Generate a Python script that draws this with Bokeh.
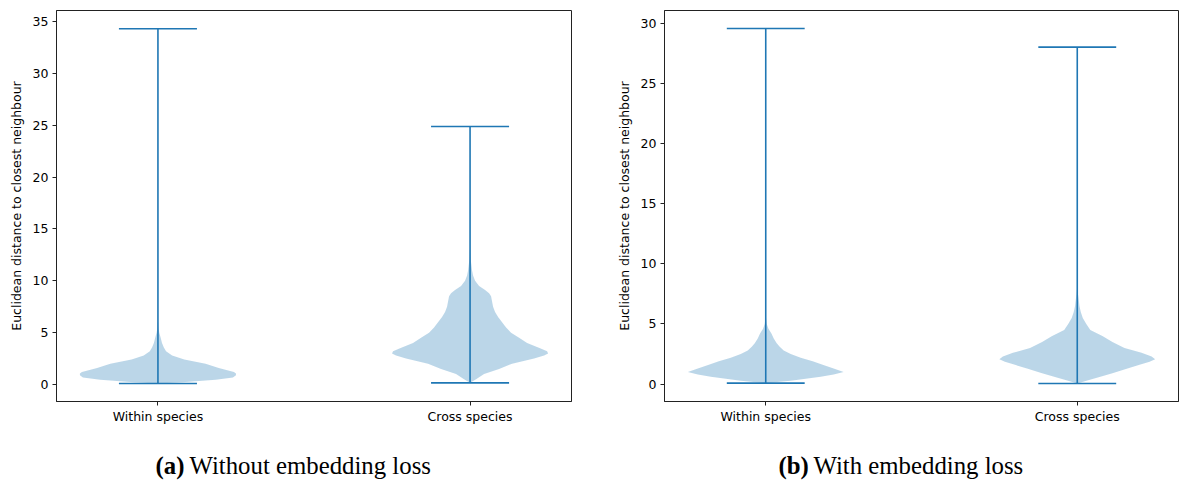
import numpy as np
from bokeh.plotting import figure
from bokeh.layouts import row, column
from bokeh.models import Range1d, FixedTicker
from bokeh.core.properties import value
from bokeh.embed import file_html
from bokeh.resources import INLINE

# ---------------- data ----------------
categories = ["Within species", "Cross species"]
positions = [1, 2]
y_label = "Euclidean distance to closest neighbour"

# panel (a): without embedding loss
a_min = [0.10, 0.16]
a_max = [34.3, 24.87]
a_within_y = [0.10, 0.22, 0.45, 0.68, 0.9, 1.05, 1.2, 1.6, 2.0, 2.4, 2.8, 3.2, 3.6, 4.0, 4.5, 5.0, 5.5, 6.0]
a_within_d = [0, 24, 57, 74, 77, 77, 75, 60, 47, 26, 14, 8, 5.7, 4, 2.7, 1.3, 0.5, 0.2]
a_cross_y = [0.16, 0.5, 1.0, 1.5, 2.0, 2.5, 2.8, 3.0, 3.2, 3.5, 4.0, 4.5, 5.0, 5.5, 6.0, 6.5, 7.0,
             7.5, 8.0, 8.5, 8.8, 9.1, 9.5, 10.0, 10.5, 11.0, 12.0, 13.0]
a_cross_d = [0, 6, 14, 29, 42, 64, 74, 78, 77, 70, 57, 49, 41, 36, 32, 28, 25,
             23, 22, 21, 19, 15, 9, 5, 3, 2, 0.7, 0.3]
a_yticks = [0, 5, 10, 15, 20, 25, 30, 35]

# panel (b): with embedding loss
b_min = [0.08, 0.05]
b_max = [29.58, 28.03]
b_within_y = [0.08, 0.28, 0.6, 0.8, 1.0, 1.3, 1.6, 1.9, 2.2, 2.5, 2.8, 3.1, 3.4, 3.8, 4.2, 4.6, 5.0, 5.5]
b_within_d = [0, 25, 55, 68, 78, 68, 57, 47, 35, 25, 18, 14, 11, 8, 5.7, 2.7, 1, 0.3]
b_cross_y = [0.05, 0.3, 0.6, 0.9, 1.3, 1.6, 1.85, 2.06, 2.3, 2.6, 3.0, 3.5, 4.0, 4.5, 5.0, 5.5,
             6.0, 6.5, 7.0, 7.5, 8.0]
b_cross_d = [0, 10, 23, 35, 50, 62, 72, 77.5, 74, 64, 47, 35, 25, 13, 9, 5.5,
             3.5, 2.2, 1.5, 0.7, 0.2]
b_yticks = [0, 5, 10, 15, 20, 25, 30]

caption_tags = ["(a)", "(b)"]
caption_texts = ["Without embedding loss", "With embedding loss"]

C0 = "#1f77b4"
FONT = "DejaVu Sans"


def make_panel(width, mbl, mbr, yr, yticks, profiles, mins, maxs):
    p = figure(width=width, height=430,
               x_range=Range1d(0.675, 2.325), y_range=Range1d(*yr),
               output_backend="svg", toolbar_location=None,
               min_border_left=mbl, min_border_right=mbr,
               min_border_top=10, min_border_bottom=29)
    p.grid.visible = False
    p.outline_line_color = "#222222"
    p.outline_line_width = 1
    p.background_fill_color = "white"
    p.border_fill_color = "white"

    for ax in (p.xaxis[0], p.yaxis[0]):
        ax.axis_line_color = "#222222"
        ax.major_tick_line_color = "#222222"
        ax.major_tick_in = 0
        ax.major_tick_out = 4
        ax.minor_tick_line_color = None
        ax.major_label_text_font = FONT
        ax.major_label_text_font_size = "12.5px"
        ax.major_label_text_color = "black"

    p.xaxis.ticker = FixedTicker(ticks=positions)
    p.xaxis.major_label_overrides = {pos: c for pos, c in zip(positions, categories)}
    p.xaxis.major_label_standoff = 3

    p.yaxis.ticker = FixedTicker(ticks=yticks)
    p.yaxis.major_label_standoff = 4
    p.yaxis.axis_label = y_label
    p.yaxis.axis_label_text_font = FONT
    p.yaxis.axis_label_text_font_size = "12.5px"
    p.yaxis.axis_label_text_font_style = "normal"
    p.yaxis.axis_label_text_color = "black"
    p.yaxis.axis_label_standoff = 6

    for pos, (ys, ds), lo, hi in zip(positions, profiles, mins, maxs):
        ys = np.asarray(ys, dtype=float)
        ds = np.asarray(ds, dtype=float)
        hw = 0.25 * ds / ds.max()
        xs = np.concatenate([pos + hw, (pos - hw)[::-1]])
        yy = np.concatenate([ys, ys[::-1]])
        p.patch(xs, yy, fill_color=C0, fill_alpha=0.3, line_color=None)
        p.segment(x0=[pos], y0=[lo], x1=[pos], y1=[hi], line_color=C0, line_width=1.6)
        p.segment(x0=[pos - 0.125, pos - 0.125], y0=[lo, hi],
                  x1=[pos + 0.125, pos + 0.125], y1=[lo, hi], line_color=C0, line_width=1.6)
    return p


pa = make_panel(612, 56, 41, (-1.64, 36.06), a_yticks,
                [(a_within_y, a_within_d), (a_cross_y, a_cross_d)], a_min, a_max)
pb = make_panel(569, 52, 3, (-1.45, 31.08), b_yticks,
                [(b_within_y, b_within_d), (b_cross_y, b_cross_d)], b_min, b_max)

# caption strip (pixel-like coordinates across the full width)
cap = figure(width=1181, height=52, x_range=Range1d(0, 1181), y_range=Range1d(0, 52),
             output_backend="svg", toolbar_location=None,
             min_border=0, min_border_left=0, min_border_right=0,
             min_border_top=0, min_border_bottom=0)
cap.axis.visible = False
cap.grid.visible = False
cap.outline_line_color = None
cap.background_fill_color = "white"
cap.border_fill_color = "white"
tag_x = [155, 778]
text_x = [189, 813]
cap.text(x=tag_x, y=[17, 17], text=caption_tags, text_font=value("Liberation Serif"),
         text_font_style="bold", text_font_size="24.8px", text_baseline="middle",
         text_align="left", text_color="black")
cap.text(x=text_x, y=[17, 17], text=caption_texts, text_font=value("Liberation Serif"),
         text_font_style="normal", text_font_size="24.8px", text_baseline="middle",
         text_align="left", text_color="black")

layout = column(row(pa, pb), cap)
open("out.html", "w").write(file_html(layout, INLINE))
